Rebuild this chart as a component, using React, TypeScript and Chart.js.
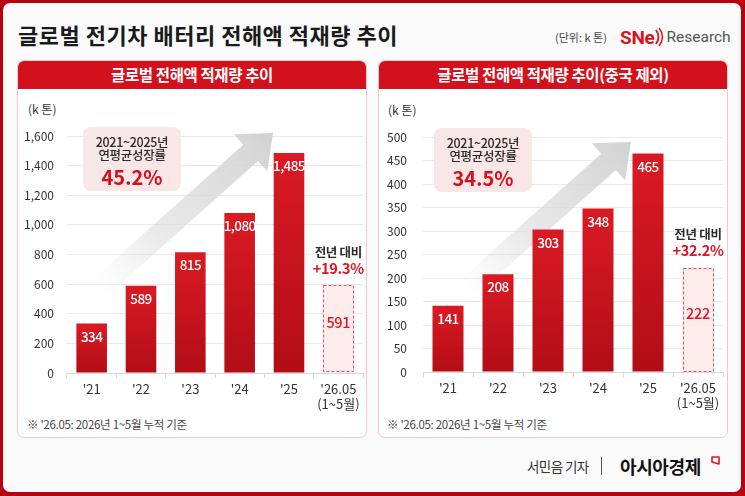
import React, { useEffect, useRef } from 'react';
import { Chart, registerables } from 'chart.js';

Chart.register(...registerables);

// ---------- data ----------
const categories: (string | string[])[] = ["'21", "'22", "'23", "'24", "'25", ["'26.05", '(1~5월)']];
const globalValues = [334, 589, 815, 1080, 1485, 591];
const exChinaValues = [141, 208, 303, 348, 465, 222];
const globalAxis = [0, 1600, 200]; // min, max, step
const exChinaAxis = [0, 500, 50];
const panelTitles = ['글로벌 전해액 적재량 추이', '글로벌 전해액 적재량 추이(중국 제외)'];
const cagrPeriod = '2021~2025년';
const cagrLabel = '연평균성장률';
const cagrValues = ['45.2%', '34.5%'];
const yoyLabel = '전년 대비';
const yoyValues = ['+19.3%', '+32.2%'];
const mainTitle = '글로벌 전기차 배터리 전해액 적재량 추이';
const unitText = '(단위: k 톤)';
const axisUnit = '(k 톤)';
const footnote = "※ '26.05: 2026년 1~5월 누적 기준";
const byline = '서민음 기자';
const brand = '아시아경제';

const FONT = "'Noto Sans CJK KR', 'Noto Sans', sans-serif";
const RED = '#d3111c';

type Geo = {
  w: number; h: number; padTop: number; yWidth: number; padRight: number;
  xHeight: number; yTickPad: number; tail: [number, number]; tip: [number, number];
};

const leftGeo: Geo = { w: 350, h: 327, padTop: 48, yWidth: 50, padRight: 4, xHeight: 42, yTickPad: 13, tail: [0.11, 0.64], tip: [0.696, -0.013] };
const rightGeo: Geo = { w: 349, h: 327, padTop: 49, yWidth: 45, padRight: 4, xHeight: 43, yTickPad: 16, tail: [0.15, 0.64], tip: [0.693, 0.021] };

function drawArrow(ctx: CanvasRenderingContext2D, T: { x: number; y: number }, P: { x: number; y: number }) {
  const dx = P.x - T.x, dy = P.y - T.y;
  const L = Math.hypot(dx, dy);
  const ux = dx / L, uy = dy / L;
  const nx = -uy, ny = ux;
  const bw = 11, hw = 25, hl = 30;
  const Hx = P.x - ux * hl, Hy = P.y - uy * hl;
  ctx.save();
  ctx.beginPath();
  ctx.moveTo(T.x + nx * bw, T.y + ny * bw);
  ctx.lineTo(Hx + nx * bw, Hy + ny * bw);
  ctx.lineTo(Hx + nx * hw, Hy + ny * hw);
  ctx.lineTo(P.x, P.y);
  ctx.lineTo(Hx - nx * hw, Hy - ny * hw);
  ctx.lineTo(Hx - nx * bw, Hy - ny * bw);
  ctx.lineTo(T.x - nx * bw, T.y - ny * bw);
  ctx.closePath();
  const g = ctx.createLinearGradient(T.x, T.y, P.x, P.y);
  g.addColorStop(0, 'rgba(228,228,228,0)');
  g.addColorStop(0.35, 'rgba(222,222,222,0.65)');
  g.addColorStop(1, 'rgba(210,210,210,1)');
  ctx.fillStyle = g;
  ctx.fill();
  ctx.restore();
}

function BarChart({ values, axis, yoy, geo, left, top }: { values: number[]; axis: number[]; yoy: string; geo: Geo; left: number; top: number }) {
  const ref = useRef<HTMLCanvasElement | null>(null);
  useEffect(() => {
    if (!ref.current) return;
    const last = values.length - 1;
    const decor = {
      id: 'decor',
      beforeDatasetsDraw(chart: any) {
        const { ctx, chartArea: a } = chart;
        const w = a.right - a.left, h = a.bottom - a.top;
        drawArrow(ctx,
          { x: a.left + geo.tail[0] * w, y: a.top + geo.tail[1] * h },
          { x: a.left + geo.tip[0] * w, y: a.top + geo.tip[1] * h });
      },
      afterDatasetsDraw(chart: any) {
        const ctx: any = chart.ctx;
        const meta = chart.getDatasetMeta(0);
        const data = chart.data.datasets[0].data as number[];
        ctx.save();
        ctx.textAlign = 'center';
        ctx.textBaseline = 'middle';
        meta.data.forEach((bar: any, i: number) => {
          const { x, y, base, width } = bar.getProps(['x', 'y', 'base', 'width'], true);
          const txt = data[i].toLocaleString('en-US');
          if (i === last) {
            ctx.save();
            ctx.setLineDash([3, 2]);
            ctx.strokeStyle = '#ef4f58';
            ctx.lineWidth = 1;
            ctx.strokeRect(Math.round(x - width / 2) + 0.5, Math.round(y) + 0.5, Math.round(width) - 1, Math.round(base - y) - 1);
            ctx.restore();
            ctx.letterSpacing = '-0.3px';
            ctx.fillStyle = '#e1141f';
            ctx.font = `500 14.5px ${FONT}`;
            ctx.fillText(txt, x, (y + base) / 2 - 6);
            ctx.fillStyle = '#2a2a2a';
            ctx.font = `bold 12.5px ${FONT}`;
            ctx.fillText(yoyLabel, x, y - 33);
            ctx.fillStyle = '#e1141f';
            ctx.font = `bold 14.5px ${FONT}`;
            ctx.fillText(yoy, x, y - 17);
          } else {
            ctx.letterSpacing = '-0.6px';
            ctx.fillStyle = '#ffffff';
            ctx.font = `500 13.5px ${FONT}`;
            ctx.fillText(txt, x, y + 13);
          }
        });
        ctx.restore();
      },
    };
    const chart = new Chart(ref.current, {
      type: 'bar',
      data: {
        labels: categories as any,
        datasets: [{
          data: values,
          backgroundColor: (c: any) => {
            if (c.dataIndex === last) return '#fcecec';
            const ys = c.chart.scales && c.chart.scales.y;
            if (!ys || c.raw == null) return '#cc1119';
            const t = ys.getPixelForValue(c.raw), b = ys.getPixelForValue(0);
            if (!isFinite(t) || !isFinite(b) || t === b) return '#cc1119';
            const g = c.chart.ctx.createLinearGradient(0, t, 0, b);
            g.addColorStop(0, '#da1a23');
            g.addColorStop(1, '#b20d16');
            return g;
          },
          borderWidth: 0,
          barPercentage: 0.62,
          categoryPercentage: 1,
        }],
      },
      options: {
        responsive: false,
        animation: false,
        layout: { autoPadding: false, padding: { top: geo.padTop, right: geo.padRight, left: 0, bottom: 0 } } as any,
        plugins: { legend: { display: false }, tooltip: { enabled: false } },
        scales: {
          x: {
            offset: true,
            afterFit: (s: any) => { s.height = geo.xHeight; },
            grid: { drawOnChartArea: false, offset: true, color: '#d9d9d9', tickLength: 5 },
            border: { display: true, color: '#d9d9d9' },
            ticks: { color: '#333', font: { family: FONT, size: 13 }, padding: 3, maxRotation: 0, autoSkip: false },
          },
          y: {
            min: axis[0], max: axis[1],
            afterFit: (s: any) => { s.width = geo.yWidth; },
            grid: { color: '#ebebeb', drawTicks: false },
            border: { display: false },
            ticks: {
              stepSize: axis[2], color: '#333', padding: geo.yTickPad,
              font: { family: FONT, size: 12 },
              callback: (v: any) => Number(v).toLocaleString('en-US'),
            },
          },
        },
      },
      plugins: [decor as any],
    });
    return () => chart.destroy();
  }, []);
  return <canvas ref={ref} width={geo.w} height={geo.h} style={{ position: 'absolute', left, top, width: geo.w, height: geo.h }} />;
}

function Line({ text, left, top, size, color, weight, width, align, ls }: any) {
  return (
    <div style={{
      position: 'absolute', left, top: top - size * 0.75, width, height: size * 1.5, lineHeight: `${size * 1.5}px`,
      fontSize: size, color, fontWeight: weight || 400, textAlign: align || 'left', whiteSpace: 'nowrap',
      letterSpacing: ls || 0,
    }}>{text}</div>
  );
}

function CagrBox({ left, top, value }: { left: number; top: number; value: string }) {
  return (
    <div style={{ position: 'absolute', left, top, width: 98, height: 64, background: '#f9e6e7', borderRadius: 8 }}>
      <Line text={cagrPeriod} left={0} top={15} size={12.5} color="#2a2a2a" width={98} align="center" ls={-0.3} weight={500} />
      <Line text={cagrLabel} left={0} top={28} size={12.5} color="#2a2a2a" width={98} align="center" ls={-0.3} weight={500} />
      <Line text={value} left={0} top={50} size={20} color="#d6101b" width={98} align="center" weight={700} />
    </div>
  );
}

function Panel({ left, title }: { left: number; title: string }) {
  return (
    <div style={{ position: 'absolute', left, top: 60, width: 350, height: 378, boxSizing: 'border-box', border: '1px solid #f0c9cd', borderRadius: 7, background: '#fff', overflow: 'hidden' }}>
      <div style={{ position: 'absolute', left: -1, top: -1, width: 350, height: 29, background: RED, color: '#fff', fontWeight: 700, fontSize: 15.5, lineHeight: '29px', textAlign: 'center', letterSpacing: -0.4 }}>{title}</div>
    </div>
  );
}

export default function App() {
  useEffect(() => { document.body.style.margin = '0'; }, []);
  return (
    <div style={{ position: 'fixed', left: 0, top: 0, width: 745, height: 496, background: '#b8000f', fontFamily: FONT, overflow: 'hidden' }}>
      <div style={{ position: 'absolute', left: 3, top: 3, right: 4, bottom: 4, background: '#fafafa', borderRadius: 7 }} />
      <Line text={mainTitle} left={18} top={34} size={22} color="#1a1a1a" weight={700} ls={0.5} />
      <Line text={unitText} left={555} top={37} size={11} color="#444" />
      <div style={{ position: 'absolute', left: 620, top: 24, height: 26, display: 'flex', alignItems: 'center' }}>
        <span style={{ fontFamily: 'Roboto, sans-serif', fontWeight: 700, fontSize: 19, color: '#d7141e', letterSpacing: -0.3 }}>SNe</span>
        <svg width="12" height="20" viewBox="0 0 12 20">
          <path d="M2 3 Q7 10 2 17" stroke="#d7141e" strokeWidth="1.8" fill="none" />
          <path d="M5 1 Q12 10 5 19" stroke="#d7141e" strokeWidth="1.5" fill="none" />
        </svg>
        <span style={{ fontFamily: 'Roboto, sans-serif', fontSize: 15.5, color: '#555' }}>Research</span>
      </div>

      <Panel left={17} title={panelTitles[0]} />
      <Panel left={378} title={panelTitles[1]} />

      <Line text={axisUnit} left={28} top={109} size={12} color="#333" />
      <Line text={axisUnit} left={388} top={110} size={12} color="#333" />

      <BarChart values={globalValues} axis={globalAxis} yoy={yoyValues[0]} geo={leftGeo} left={17} top={88} />
      <BarChart values={exChinaValues} axis={exChinaAxis} yoy={yoyValues[1]} geo={rightGeo} left={378} top={88} />

      <CagrBox left={83} top={127} value={cagrValues[0]} />
      <CagrBox left={434} top={128} value={cagrValues[1]} />

      <Line text={footnote} left={27} top={425} size={11.5} color="#444" ls={-0.3} />
      <Line text={footnote} left={387} top={425} size={11.5} color="#444" ls={-0.3} />

      <Line text={byline} left={527} top={466} size={13.5} color="#333" ls={-0.6} />
      <div style={{ position: 'absolute', left: 601, top: 457, width: 1, height: 18, background: '#555' }} />
      <Line text={brand} left={620} top={466} size={18} color="#111" weight={700} ls={-0.4} />
      <svg width="9" height="11" viewBox="0 0 9 11" style={{ position: 'absolute', left: 711, top: 456 }}>
        <path d="M1 1 L8 1 L8 8 L1 6 Z" stroke="#e0141e" strokeWidth="1.6" fill="none" strokeLinejoin="round" />
      </svg>
    </div>
  );
}
